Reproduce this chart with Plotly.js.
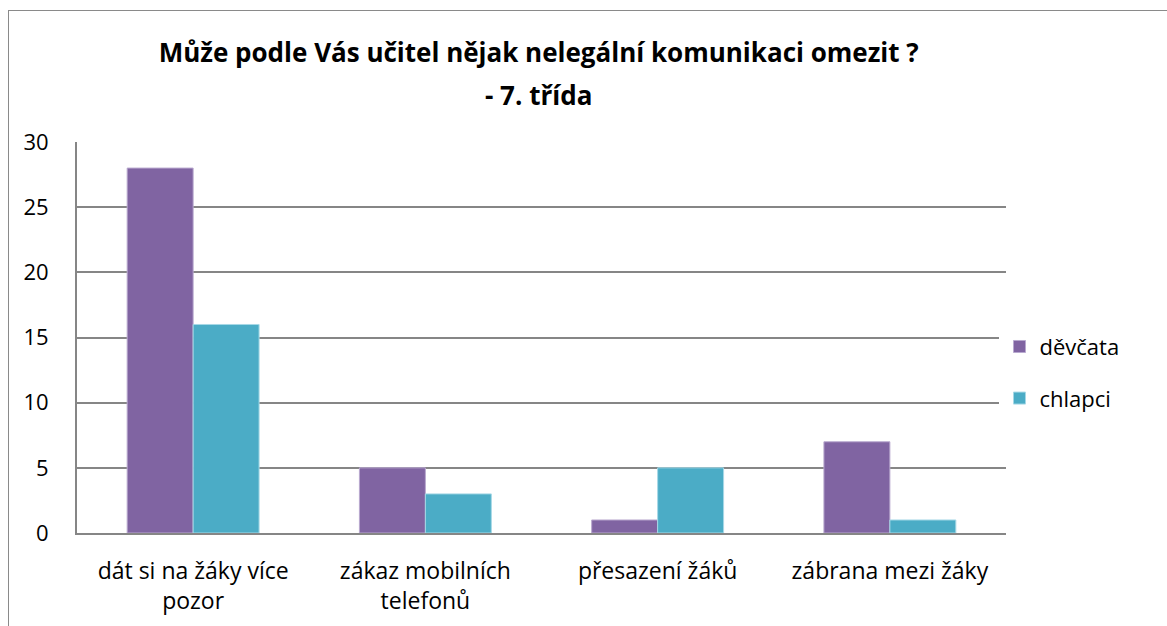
<!DOCTYPE html>
<html>
<head>
<meta charset="utf-8">
<script src="https://cdn.plot.ly/plotly-3.0.1.min.js"></script>
<style>
  html, body { margin: 0; padding: 0; background: #fff; }
  #wrap { position: relative; width: 1167px; height: 626px; overflow: hidden; }
  #chart { width: 1167px; height: 626px; }
  #frame { position: absolute; left: 8px; top: 10px; width: 1200px; height: 700px;
           border-left: 1px solid #8a8a8a; border-top: 1px solid #8a8a8a; pointer-events: none; }
</style>
</head>
<body>
<div id="wrap">
  <div id="chart"></div>
  <div id="frame"></div>
</div>
<script>
const categories = [
  "dát si na žáky více<br>pozor",
  "zákaz mobilních<br>telefonů",
  "přesazení žáků",
  "zábrana mezi žáky"
];
const divcata = [28, 5, 1, 7];
const chlapci = [16, 3, 5, 1];
const seriesNames = ["děvčata", "chlapci"];
const yTicks = [0, 5, 10, 15, 20, 25, 30];
const titleLine1 = "Může podle Vás učitel nějak nelegální komunikaci omezit ?";
const titleLine2 = "- 7. třída";

const fontFam = "Open Sans, Noto Sans, sans-serif";

const data = [
  { type: "bar", x: categories, y: divcata, name: seriesNames[0], legendgroup: "a",
    marker: { color: "#8064A2", line: { color: "#b9a9cf", width: 1 } } },
  { type: "bar", x: categories, y: chlapci, name: seriesNames[1], legendgroup: "b",
    marker: { color: "#4BACC6", line: { color: "#a6d8e6", width: 1 } } }
];

const layout = {
  width: 1167, height: 626,
  margin: { l: 77, r: 161, t: 142, b: 93 },
  paper_bgcolor: "#ffffff", plot_bgcolor: "#ffffff",
  font: { family: fontFam, color: "#000000", size: 22 },
  title: {
    text: "<b>" + titleLine1 + "</b>",
    x: 0.497, xref: "paper", xanchor: "center",
    y: 0.915, yref: "container", yanchor: "middle",
    font: { family: fontFam, size: 26, color: "#000000" }
  },
  annotations: [{
    text: "<b>" + titleLine2 + "</b>",
    xref: "paper", yref: "paper", x: 0.497, y: 1.12,
    xanchor: "center", yanchor: "middle", showarrow: false,
    font: { family: fontFam, size: 26, color: "#000000" }
  }],
  barmode: "group",
  bargap: 0.432,
  bargroupgap: 0,
  xaxis: {
    type: "category",
    showgrid: false,
    showline: true, linecolor: "#868686", linewidth: 2,
    ticks: "outside", ticklen: 16, tickcolor: "rgba(0,0,0,0)",
    tickfont: { family: fontFam, size: 23, color: "#000" },
    zeroline: false
  },
  yaxis: {
    range: [0, 30],
    tickvals: yTicks,
    showgrid: true, gridcolor: "#868686", gridwidth: 2,
    showline: true, linecolor: "#868686", linewidth: 2,
    ticks: "outside", ticklen: 22, tickcolor: "rgba(0,0,0,0)",
    tickfont: { family: fontFam, size: 22, color: "#000" },
    zeroline: false
  },
  showlegend: true,
  legend: {
    x: 0.993, xanchor: "left", y: 0.41, yanchor: "middle",
    font: { family: fontFam, size: 22, color: "#000" },
    tracegroupgap: 20,
    traceorder: "grouped",
    itemwidth: 30
  }
};

Plotly.newPlot("chart", data, layout, { displayModeBar: false, staticPlot: true });
</script>
</body>
</html>
